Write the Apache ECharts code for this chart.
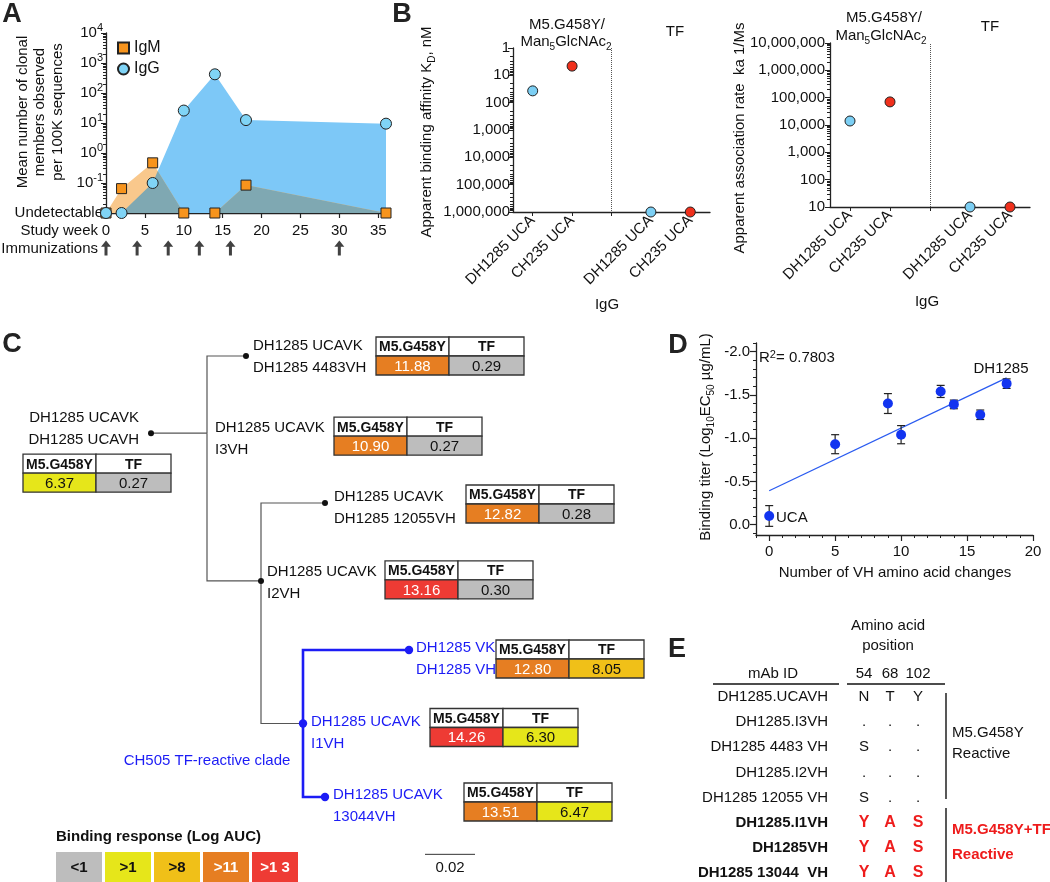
<!DOCTYPE html>
<html><head><meta charset="utf-8">
<script src="https://cdn.jsdelivr.net/npm/echarts@6/dist/echarts.min.js"></script>
<style>html,body{margin:0;padding:0;background:#fff}#c{width:1050px;height:882px}</style>
</head><body><div id="c"></div>
<script>
const FONT = '"Liberation Sans", Arial, Helvetica, sans-serif';
const INK = '#111';
const BLUE = '#1c1cf5';

// ---------- Panel A data ----------
const studyWeeks = [0, 2, 6, 10, 14, 18, 36];
const igmValues = [0, 0.065, 0.47, 0, 0, 0.085, 0];     // 0 = undetectable
const iggValues = [0, 0, 0.1, 26, 420, 12.5, 9.5];
const immunizationWeeks = [0, 4, 8, 12, 16, 30];
const weekTicks = [0, 5, 10, 15, 20, 25, 30, 35];
const UNDETECTABLE = 0.01;

// ---------- Panel B data ----------
const bCategories = ['DH1285 UCA', 'CH235 UCA', '', 'DH1285 UCA', 'CH235 UCA'];
const kdDH1285 = [37, 1000000];      // M5.G458Y/Man5GlcNAc2, TF
const kdCH235 = [4.6, 1000000];
const kaDH1285 = [14000, 10];
const kaCH235 = [70000, 10];

// ---------- Panel C data ----------
const nodeLabelVK = ['DH1285 UCAVK', 'DH1285 UCAVK', 'DH1285 UCAVK', 'DH1285 UCAVK', 'DH1285 UCAVK', 'DH1285 UCAVK', 'DH1285 VK', 'DH1285 UCAVK'];
const nodeLabelVH = ['DH1285 UCAVH', 'I3VH', 'DH1285 4483VH', 'I2VH', 'DH1285 12055VH', 'I1VH', 'DH1285 VH', '13044VH'];
const nodeParents = [-1, 0, 1, 1, 3, 3, 5, 5];
const branchX = [0, 0.0224, 0.038, 0.044, 0.0696, 0.0608, 0.1032, 0.0696];
const treeY = [1.05, 1.05, 0, 3.06, 2, 5, 4, 6];
const cladeMember = [false, false, false, false, false, true, true, true];
const m5Auc = [6.37, 10.90, 11.88, 13.16, 12.82, 14.26, 12.80, 13.51];
const tfAuc = [0.27, 0.27, 0.29, 0.30, 0.28, 6.30, 8.05, 6.47];
const m5Bin = [1, 3, 3, 4, 3, 4, 3, 3];
const tfBin = [0, 0, 0, 0, 0, 1, 2, 1];
const tableHeaders = ['M5.G458Y', 'TF'];
const legendLabels = ['<1', '>1', '>8', '>11', '>1 3'];
const scaleBarLength = 0.02;

// ---------- Panel D data ----------
const vhChanges = [0, 5, 9, 10, 13, 14, 16, 18];
const bindingTiter = [-0.10, -0.93, -1.40, -1.04, -1.54, -1.39, -1.27, -1.63];
const titerError = [0.12, 0.11, 0.115, 0.105, 0.07, 0.05, 0.055, 0.055];

// ---------- Panel E data ----------
const mabIds = ['DH1285.UCAVH', 'DH1285.I3VH', 'DH1285 4483 VH', 'DH1285.I2VH', 'DH1285 12055 VH', 'DH1285.I1VH', 'DH1285VH', 'DH1285 13044  VH'];
const aaPositions = ['54', '68', '102'];
const res54 = ['N', '.', 'S', '.', 'S', 'Y', 'Y', 'Y'];
const res68 = ['T', '.', '.', '.', '.', 'A', 'A', 'A'];
const res102 = ['Y', '.', '.', '.', '.', 'S', 'S', 'S'];
const tfReactive = [false, false, false, false, false, true, true, true];

// ---------- styles / layout (not data) ----------
const binColors = ['#bdbdbd', '#e6e61a', '#f0c018', '#e67e22', '#ee3b34'];
const labelDX = [-12, 8, 7, 6, 9, 8, 7, 8];
const labelDY = [-15, -5, -10, -9, -6, -2, -2, -2];
const tableDX = [-128, 127, 130, 124, 141, 127, 87, 139];
const tableDY = [21, -16, -19, -20, -18, -15, -10, -14];

// ---------- helpers ----------
const toPlot = v => (v > 0 ? v : UNDETECTABLE);
function minEnvelope(xs, a, b) {
  const out = [];
  for (let i = 0; i < xs.length; i++) {
    const la = Math.log10(a[i]), lb = Math.log10(b[i]);
    out.push([xs[i], Math.pow(10, Math.min(la, lb))]);
    if (i < xs.length - 1) {
      const la2 = Math.log10(a[i + 1]), lb2 = Math.log10(b[i + 1]);
      const d1 = la - lb, d2 = la2 - lb2;
      if (d1 * d2 < 0) {
        const t = d1 / (d1 - d2);
        out.push([xs[i] + t * (xs[i + 1] - xs[i]), Math.pow(10, la + t * (la2 - la))]);
      }
    }
  }
  return out;
}
// minor log ticks expressed as log10 positions (for an overlay value axis in log space)
function logMinorExp(lo, hi) {
  const r = [];
  for (let e = lo; e < hi; e++) for (let k = 2; k <= 9; k++) r.push(e + Math.log10(k));
  return r;
}
function T(x, y, text, o) {
  o = o || {};
  const st = {
    text: text, fill: o.color || INK, fontSize: o.size || 15, fontFamily: FONT,
    fontWeight: o.bold ? 'bold' : 'normal',
    align: o.align || 'center', verticalAlign: o.va || 'middle',
    textAlign: o.align || 'center', textVerticalAlign: o.va || 'middle'
  };
  if (o.lh) st.lineHeight = o.lh;
  if (o.rich) st.rich = o.rich;
  return { type: 'text', x: x, y: y, rotation: o.rot || 0, z: 100, style: st };
}
function L(x1, y1, x2, y2, c, w) {
  return { type: 'line', z: 100, shape: { x1, y1, x2, y2 }, style: { stroke: c || INK, lineWidth: w || 1.2 } };
}
const SUB = { fontSize: 10, fontFamily: FONT, lineHeight: 12, verticalAlign: 'bottom', fill: INK };
const SUP = { fontSize: 11, fontFamily: FONT, lineHeight: 12, verticalAlign: 'top', fill: INK };

const igmPlot = studyWeeks.map((w, i) => [w, toPlot(igmValues[i])]);
const iggPlot = studyWeeks.map((w, i) => [w, toPlot(iggValues[i])]);
const overlapPlot = minEnvelope(studyWeeks, igmValues.map(toPlot), iggValues.map(toPlot));

// regression for panel D
const n = vhChanges.length;
const mx = vhChanges.reduce((s, v) => s + v, 0) / n;
const my = bindingTiter.reduce((s, v) => s + v, 0) / n;
let sxy = 0, sxx = 0;
for (let i = 0; i < n; i++) { sxy += (vhChanges[i] - mx) * (bindingTiter[i] - my); sxx += (vhChanges[i] - mx) ** 2; }
const slope = sxy / sxx, icpt = my - slope * mx;
const xFit = [Math.min(...vhChanges), Math.max(...vhChanges)];
const fitLine = xFit.map(x => [x, icpt + slope * x]);

const axisLineStyle = { show: true, onZero: false, lineStyle: { color: '#222', width: 1.3 } };
const lbl = { fontFamily: FONT, fontSize: 15, color: INK };
const hidden = { show: false, onZero: false };

const logLabel = v => {
  if (v <= UNDETECTABLE * 1.0001) return 'Undetectable';
  const e = Math.round(Math.log10(v));
  return '10{sup|' + e + '}';
};
const commaLabel = v => Math.round(v).toLocaleString('en-US');
function minorOverlay(grid, lo, hi, inverse) {
  return { gridIndex: grid, type: 'value', min: lo, max: hi, inverse: !!inverse, position: 'left', axisLine: hidden,
    axisTick: { show: true, length: 3, customValues: logMinorExp(lo, hi), lineStyle: { color: '#222' } },
    axisLabel: { show: false }, splitLine: { show: false } };
}

const chart = echarts.init(document.getElementById('c'), null, { renderer: 'canvas' });

const option = {
  animation: false,
  backgroundColor: '#fff',
  textStyle: { fontFamily: FONT },
  grid: [
    { left: 106, top: 33, width: 280, height: 180, outerBoundsMode: 'none' },
    { left: 106, top: 239, width: 280, height: 18, outerBoundsMode: 'none' },
    { left: 513, top: 48, width: 197, height: 164, outerBoundsMode: 'none' },
    { left: 830, top: 43, width: 200, height: 164, outerBoundsMode: 'none' },
    { left: 151, top: 356, width: 350, height: 514.5, outerBoundsMode: 'none' },
    { left: 756, top: 343, width: 277, height: 192, outerBoundsMode: 'none' }
  ],
  xAxis: [
    { gridIndex: 0, type: 'value', min: 0, max: 36, position: 'bottom', axisLine: axisLineStyle,
      axisTick: { show: true, length: 5, customValues: weekTicks, lineStyle: { color: '#222', width: 1.2 } }, splitLine: { show: false },
      axisLabel: Object.assign({}, lbl, { margin: 10, customValues: weekTicks }) },
    { gridIndex: 1, type: 'value', min: 0, max: 36, show: false },
    { gridIndex: 2, type: 'category', position: 'bottom', data: bCategories, boundaryGap: true, axisLine: axisLineStyle,
      axisTick: { show: true, alignWithLabel: true, length: 4, lineStyle: { color: '#222' } },
      axisLabel: Object.assign({}, lbl, { rotate: 45, margin: 6, interval: 0 }), splitLine: { show: false } },
    { gridIndex: 3, type: 'category', position: 'bottom', data: bCategories, boundaryGap: true, axisLine: axisLineStyle,
      axisTick: { show: true, alignWithLabel: true, length: 4, lineStyle: { color: '#222' } },
      axisLabel: Object.assign({}, lbl, { rotate: 45, margin: 6, interval: 0 }), splitLine: { show: false } },
    { gridIndex: 4, type: 'value', min: 0, max: 0.14, show: false },
    { gridIndex: 5, type: 'value', min: -1, max: 20, position: 'bottom', axisLine: axisLineStyle,
      axisTick: { show: true, length: 6, customValues: [0, 5, 10, 15, 20], lineStyle: { color: '#222', width: 1.2 } },
      axisLabel: Object.assign({}, lbl, { margin: 9, customValues: [0, 5, 10, 15, 20] }), splitLine: { show: false } },
    { gridIndex: 5, type: 'value', min: -1, max: 20, position: 'bottom', axisLine: hidden,
      axisTick: { show: true, length: 3, customValues: Array.from({ length: 22 }, (_, k) => k - 1), lineStyle: { color: '#222' } },
      axisLabel: { show: false }, splitLine: { show: false } }
  ],
  yAxis: [
    { gridIndex: 0, type: 'log', logBase: 10, min: UNDETECTABLE, max: 10000, axisLine: axisLineStyle,
      axisTick: { show: true, length: 5, lineStyle: { color: '#222' } }, splitLine: { show: false },
      axisLabel: Object.assign({}, lbl, { margin: 3, lineHeight: 22, formatter: logLabel, rich: { sup: { fontSize: 11, lineHeight: 12, verticalAlign: 'top', fontFamily: FONT, color: INK } } }) },
    minorOverlay(0, -2, 4, false),
    { gridIndex: 1, type: 'value', min: 0, max: 1, show: false },
    { gridIndex: 2, type: 'log', logBase: 10, min: 1, max: 1000000, inverse: true, axisLine: axisLineStyle,
      axisTick: { show: true, length: 5, lineStyle: { color: '#222' } }, splitLine: { show: false },
      axisLabel: Object.assign({}, lbl, { margin: 3, formatter: commaLabel }) },
    minorOverlay(2, 0, 6, true),
    { gridIndex: 3, type: 'log', logBase: 10, min: 10, max: 10000000, axisLine: axisLineStyle,
      axisTick: { show: true, length: 5, lineStyle: { color: '#222' } }, splitLine: { show: false },
      axisLabel: Object.assign({}, lbl, { margin: 5, formatter: commaLabel }) },
    minorOverlay(3, 1, 7, false),
    { gridIndex: 4, type: 'value', min: 0, max: 7, inverse: true, show: false },
    { gridIndex: 5, type: 'value', min: -2.1, max: 0.12, inverse: true, position: 'left', axisLine: axisLineStyle,
      axisTick: { show: true, length: 6, customValues: [-2, -1.5, -1, -0.5, 0], lineStyle: { color: '#222', width: 1.2 } },
      axisLabel: Object.assign({}, lbl, { margin: 6, customValues: [-2, -1.5, -1, -0.5, 0], formatter: v => v.toFixed(1) }), splitLine: { show: false } },
    { gridIndex: 5, type: 'value', min: -2.1, max: 0.12, inverse: true, position: 'left', axisLine: hidden,
      axisTick: { show: true, length: 3, customValues: Array.from({ length: 23 }, (_, k) => (k - 21) / 10), lineStyle: { color: '#222' } },
      axisLabel: { show: false }, splitLine: { show: false } }
  ],
  legend: {
    data: ['IgM', 'IgG'], orient: 'vertical', left: 112, top: 35, itemGap: 5, itemWidth: 11, itemHeight: 11,
    textStyle: { fontFamily: FONT, fontSize: 16, color: INK }, selectedMode: false
  },
  series: [
    // Panel A areas
    { name: 'IgG area', type: 'line', xAxisIndex: 0, yAxisIndex: 0, data: iggPlot, symbol: 'none', z: 1,
      lineStyle: { width: 0 }, areaStyle: { color: '#7dc8f7', opacity: 1, origin: 'start' } },
    { name: 'IgM area', type: 'line', xAxisIndex: 0, yAxisIndex: 0, data: igmPlot, symbol: 'none', z: 2,
      lineStyle: { width: 0 }, areaStyle: { color: '#f9c88c', opacity: 1, origin: 'start' } },
    { name: 'overlap area', type: 'line', xAxisIndex: 0, yAxisIndex: 0, data: overlapPlot, symbol: 'none', z: 3,
      lineStyle: { width: 0 }, areaStyle: { color: '#7fa8b2', opacity: 1, origin: 'start' } },
    { name: 'IgM', type: 'scatter', xAxisIndex: 0, yAxisIndex: 0, data: igmPlot, symbol: 'rect', symbolSize: 10, z: 5, clip: false,
      itemStyle: { color: '#f7941d', borderColor: '#222', borderWidth: 1, opacity: 1 } },
    { name: 'IgG', type: 'scatter', xAxisIndex: 0, yAxisIndex: 0, data: iggPlot, symbol: 'circle', symbolSize: 11, z: 6, clip: false,
      itemStyle: { color: '#80d4f6', borderColor: '#222', borderWidth: 1, opacity: 1 } },
    { name: 'immunizations', type: 'scatter', xAxisIndex: 1, yAxisIndex: 2, data: immunizationWeeks.map(w => [w, 0.5]),
      symbol: 'path://M5,0 L10,7 L6.5,7 L6.5,17 L3.5,17 L3.5,7 L0,7 Z', symbolSize: [10, 15], clip: false,
      itemStyle: { color: INK } },
    // Panel B left
    { name: 'kd DH1285', type: 'scatter', xAxisIndex: 2, yAxisIndex: 3, clip: false, symbolSize: 10,
      data: [[0, kdDH1285[0]], [3, kdDH1285[1]]], itemStyle: { color: '#7ccff4', borderColor: '#222', borderWidth: 1, opacity: 1 },
      markLine: { silent: true, symbol: 'none', label: { show: false }, lineStyle: { type: 'dotted', color: '#555', width: 1 }, data: [{ xAxis: 2 }] } },
    { name: 'kd CH235', type: 'scatter', xAxisIndex: 2, yAxisIndex: 3, clip: false, symbolSize: 10,
      data: [[1, kdCH235[0]], [4, kdCH235[1]]], itemStyle: { color: '#f0301c', borderColor: '#222', borderWidth: 1, opacity: 1 } },
    // Panel B right
    { name: 'ka DH1285', type: 'scatter', xAxisIndex: 3, yAxisIndex: 5, clip: false, symbolSize: 10,
      data: [[0, kaDH1285[0]], [3, kaDH1285[1]]], itemStyle: { color: '#7ccff4', borderColor: '#222', borderWidth: 1, opacity: 1 },
      markLine: { silent: true, symbol: 'none', label: { show: false }, lineStyle: { type: 'dotted', color: '#555', width: 1 }, data: [{ xAxis: 2 }] } },
    { name: 'ka CH235', type: 'scatter', xAxisIndex: 3, yAxisIndex: 5, clip: false, symbolSize: 10,
      data: [[1, kaCH235[0]], [4, kaCH235[1]]], itemStyle: { color: '#f0301c', borderColor: '#222', borderWidth: 1, opacity: 1 } },
    // Panel C tree
    { name: 'tree', type: 'custom', xAxisIndex: 4, yAxisIndex: 7, clip: false,
      data: branchX.map((x, i) => [x, treeY[i], i]),
      renderItem: function (params, api) {
        const i = params.dataIndex;
        const p = api.coord([branchX[i], treeY[i]]);
        const kids = [];
        const isBlue = cladeMember[i];
        if (nodeParents[i] >= 0) {
          const pi = nodeParents[i];
          const q = api.coord([branchX[pi], treeY[pi]]);
          const inClade = cladeMember[i] && cladeMember[pi];
          kids.push({ type: 'polyline', z2: 1, shape: { points: [[q[0], q[1]], [q[0], p[1]], [p[0], p[1]]] },
            style: { stroke: inClade ? BLUE : '#555', lineWidth: inClade ? 2.6 : 1.2, fill: null } });
        }
        if (i !== 1) {
          kids.push({ type: 'circle', z2: 5, shape: { cx: p[0], cy: p[1], r: isBlue ? 4.2 : 3 }, style: { fill: isBlue ? BLUE : INK } });
        }
        const lx = p[0] + labelDX[i], ly = p[1] + labelDY[i];
        const al = labelDX[i] < 0 ? 'right' : 'left';
        [nodeLabelVK[i], nodeLabelVH[i]].forEach((t, k) => {
          kids.push({ type: 'text', z2: 6, x: lx, y: ly + k * 22,
            style: { text: t, fill: isBlue ? BLUE : INK, fontSize: 15, fontFamily: FONT, align: al, verticalAlign: 'middle', textAlign: al, textVerticalAlign: 'middle' } });
        });
        const tx = p[0] + tableDX[i], ty = p[1] + tableDY[i];
        const W1 = 73, W2 = 75, H = 19;
        const cells = [
          [tx, ty, W1, H, '#fff', tableHeaders[0], INK, true],
          [tx + W1, ty, W2, H, '#fff', tableHeaders[1], INK, true],
          [tx, ty + H, W1, H, binColors[m5Bin[i]], m5Auc[i].toFixed(2), m5Bin[i] >= 3 ? '#fff' : INK, false],
          [tx + W1, ty + H, W2, H, binColors[tfBin[i]], tfAuc[i].toFixed(2), tfBin[i] >= 3 ? '#fff' : INK, false]
        ];
        cells.forEach(c => {
          kids.push({ type: 'rect', z2: 7, shape: { x: c[0], y: c[1], width: c[2], height: c[3] }, style: { fill: c[4], stroke: '#333', lineWidth: 1.3 } });
          kids.push({ type: 'text', z2: 8, x: c[0] + c[2] / 2, y: c[1] + c[3] / 2 + 1,
            style: { text: c[5], fill: c[6], fontSize: c[7] ? 14 : 15, fontWeight: c[7] ? 'bold' : 'normal', fontFamily: FONT,
              align: 'center', verticalAlign: 'middle', textAlign: 'center', textVerticalAlign: 'middle' } });
        });
        return { type: 'group', children: kids };
      } },
    { name: 'scale bar', type: 'line', xAxisIndex: 4, yAxisIndex: 7, clip: false, symbol: 'none',
      data: [[0.1096, 6.78], [0.1096 + scaleBarLength, 6.78]], lineStyle: { color: '#333', width: 1 } },
    // Panel D
    { name: 'error bars', type: 'custom', xAxisIndex: 5, yAxisIndex: 8, clip: false, z: 3,
      data: vhChanges.map((x, i) => [x, bindingTiter[i] - titerError[i], bindingTiter[i] + titerError[i]]),
      renderItem: function (params, api) {
        const a = api.coord([api.value(0), api.value(1)]);
        const b = api.coord([api.value(0), api.value(2)]);
        const st = { stroke: '#222', lineWidth: 1.2 };
        return { type: 'group', children: [
          { type: 'line', shape: { x1: a[0], y1: a[1], x2: b[0], y2: b[1] }, style: st },
          { type: 'line', shape: { x1: a[0] - 4, y1: a[1], x2: a[0] + 4, y2: a[1] }, style: st },
          { type: 'line', shape: { x1: b[0] - 4, y1: b[1], x2: b[0] + 4, y2: b[1] }, style: st }
        ] };
      } },
    { name: 'fit', type: 'line', xAxisIndex: 5, yAxisIndex: 8, data: fitLine, symbol: 'none', z: 2,
      lineStyle: { color: '#2a5bf0', width: 1.3 } },
    { name: 'titers', type: 'scatter', xAxisIndex: 5, yAxisIndex: 8, clip: false, z: 4, symbolSize: 10,
      data: vhChanges.map((x, i) => [x, bindingTiter[i]]), itemStyle: { color: '#1234f0', opacity: 1 } }
  ],
  graphic: { elements: [] }
};

const G = option.graphic.elements;
// panel letters
[['A', 12, 15], ['B', 402, 15], ['C', 12, 345], ['D', 678, 346], ['E', 677, 650]].forEach(a => G.push(T(a[1], a[2], a[0], { size: 27, bold: true, color: '#222' })));

// Panel A texts
G.push(T(40, 112, 'Mean number of clonal\nmembers observed\nper 100K sequences', { rot: Math.PI / 2, lh: 17.5 }));
G.push(T(98, 231, 'Study week', { align: 'right' }));
G.push(T(98, 249, 'Immunizations', { align: 'right' }));

// Panel B texts
G.push(T(427, 132, 'Apparent binding affinity K{sub|D}, nM', { rot: Math.PI / 2, lh: 20, rich: { sub: SUB } }));
G.push(T(567, 25, 'M5.G458Y/'));
G.push(T(566, 42, 'Man{sub|5}GlcNAc{sub|2}', { lh: 20, rich: { sub: SUB } }));
G.push(T(675, 32, 'TF'));
G.push(T(607, 305, 'IgG'));
G.push(T(740, 138, 'Apparent association rate  ka 1/Ms', { rot: Math.PI / 2 }));
G.push(T(884, 18, 'M5.G458Y/'));
G.push(T(881, 36, 'Man{sub|5}GlcNAc{sub|2}', { lh: 20, rich: { sub: SUB } }));
G.push(T(990, 27, 'TF'));
G.push(T(927, 302, 'IgG'));

// Panel C annotations
G.push(T(207, 761, 'CH505 TF-reactive clade', { color: BLUE }));
G.push(T(56, 837, 'Binding response (Log AUC)', { bold: true, align: 'left' }));
legendLabels.forEach((t, k) => {
  const x0 = 56 + k * 49;
  G.push({ type: 'rect', z: 90, shape: { x: x0, y: 852, width: 46, height: 34 }, style: { fill: binColors[k] } });
  G.push(T(x0 + 23, 868, t, { bold: true, color: k >= 3 ? '#fff' : INK }));
});
G.push(T(450, 868, String(scaleBarLength)));

// Panel D texts
G.push(T(706, 437, 'Binding titer (Log{sub|10}EC{sub|50} µg/mL)', { rot: Math.PI / 2, lh: 20, rich: { sub: SUB } }));
G.push(T(895, 573, 'Number of VH amino acid changes'));
G.push(T(759, 358, 'R{sup|2}= 0.7803', { align: 'left', lh: 18, rich: { sup: SUP } }));
G.push(T(1001, 369, 'DH1285'));
G.push(T(776, 518, 'UCA', { align: 'left' }));

// Panel E
G.push(T(888, 626, 'Amino acid'));
G.push(T(888, 646, 'position'));
G.push(T(773, 674, 'mAb ID'));
const colX = [864, 890, 918];
aaPositions.forEach((p, k) => G.push(T(colX[k], 674, p)));
G.push(L(713, 684, 839, 684, INK, 1.3));
G.push(L(847, 684, 945, 684, INK, 1.3));
mabIds.forEach((id, r) => {
  const y = 697 + r * 25.15;
  const tf = tfReactive[r];
  G.push(T(828, y, id, { align: 'right', bold: tf }));
  [res54[r], res68[r], res102[r]].forEach((c, k) => G.push(T(colX[k], y, c, { bold: tf, color: tf ? '#ee1c1c' : INK, size: tf ? 16 : 15 })));
});
G.push(L(946, 693, 946, 799, INK, 1.4));
G.push(L(946, 808, 946, 882, INK, 1.4));
G.push(T(952, 733, 'M5.G458Y', { align: 'left' }));
G.push(T(952, 754, 'Reactive', { align: 'left' }));
G.push(T(952, 830, 'M5.G458Y+TF', { align: 'left', bold: true, color: '#ee1c1c' }));
G.push(T(952, 855, 'Reactive', { align: 'left', bold: true, color: '#ee1c1c' }));

chart.setOption(option);
</script>
</body></html>
